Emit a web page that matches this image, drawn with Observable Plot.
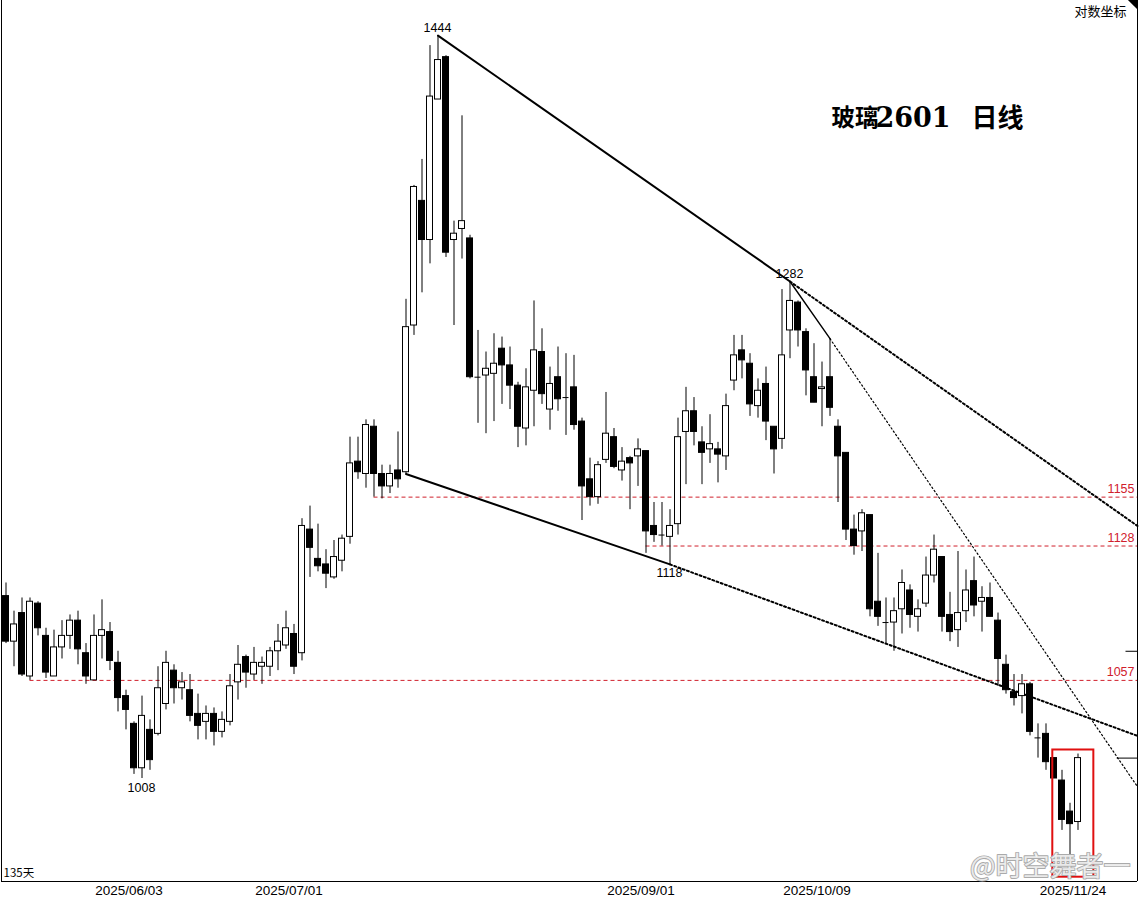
<!DOCTYPE html>
<html><head><meta charset="utf-8">
<script src="https://cdn.jsdelivr.net/npm/d3@7"></script>
<script src="https://cdn.jsdelivr.net/npm/@observablehq/plot@0.6"></script>
<style>body{margin:0;background:#fff}#chart svg{display:block}</style>
</head><body><div id="chart"></div>
<script>
// ---- data ----
const dates = [
"2025/05/12","2025/05/13","2025/05/14","2025/05/15","2025/05/16","2025/05/19","2025/05/20","2025/05/21","2025/05/22","2025/05/23","2025/05/26","2025/05/27","2025/05/28","2025/05/29","2025/05/30",
"2025/06/03","2025/06/04","2025/06/05","2025/06/06","2025/06/09","2025/06/10","2025/06/11","2025/06/12","2025/06/13","2025/06/16","2025/06/17","2025/06/18","2025/06/19","2025/06/20","2025/06/23","2025/06/24","2025/06/25","2025/06/26","2025/06/27","2025/06/30",
"2025/07/01","2025/07/02","2025/07/03","2025/07/04","2025/07/07","2025/07/08","2025/07/09","2025/07/10","2025/07/11","2025/07/14","2025/07/15","2025/07/16","2025/07/17","2025/07/18","2025/07/21","2025/07/22","2025/07/23","2025/07/24","2025/07/25","2025/07/28","2025/07/29","2025/07/30","2025/07/31",
"2025/08/01","2025/08/04","2025/08/05","2025/08/06","2025/08/07","2025/08/08","2025/08/11","2025/08/12","2025/08/13","2025/08/14","2025/08/15","2025/08/18","2025/08/19","2025/08/20","2025/08/21","2025/08/22","2025/08/25","2025/08/26","2025/08/27","2025/08/28","2025/08/29",
"2025/09/01","2025/09/02","2025/09/03","2025/09/04","2025/09/05","2025/09/08","2025/09/09","2025/09/10","2025/09/11","2025/09/12","2025/09/15","2025/09/16","2025/09/17","2025/09/18","2025/09/19","2025/09/22","2025/09/23","2025/09/24","2025/09/25","2025/09/26","2025/09/29","2025/09/30",
"2025/10/09","2025/10/10","2025/10/13","2025/10/14","2025/10/15","2025/10/16","2025/10/17","2025/10/20","2025/10/21","2025/10/22","2025/10/23","2025/10/24","2025/10/27","2025/10/28","2025/10/29","2025/10/30","2025/10/31",
"2025/11/03","2025/11/04","2025/11/05","2025/11/06","2025/11/07","2025/11/10","2025/11/11","2025/11/12","2025/11/13","2025/11/14","2025/11/17","2025/11/18","2025/11/19","2025/11/20","2025/11/21","2025/11/24","2025/11/25"];

const open = [1101,1077,1092,1059,1097,1080,1059,1074,1080,1088,
 1071,1057,1080,1082,1066,1049,1035,1013,1032,1030,
 1045,1062,1053,1052,1040,1036,1040,1031,1036,1056,
 1069,1060,1064,1064,1072,1075,1081,1071,1137,1121,
 1118,1111,1120,1133,1175,1168,1195,1168,1161,1170,
 1169,1255,1333,1308,1400,1429,1308,1315,1309,1224,
 1225,1226,1241,1231,1219,1194,1216,1239,1205,1224,
 1212,1218,1198,1165,1155,1176,1189,1170,1177,1178,
 1181,1139,1134,1133,1140,1192,1204,1186,1182,1182,
 1178,1222,1240,1232,1207,1220,1195,1188,1252,1269,
 1251,1224,1217,1224,1195,1180,1137,1136,1145,1098,
 1087,1087,1094,1104,1090,1097,1112,1122,1091,1083,
 1093,1109,1098,1100,1088,1065,1051,1049,1055,1028,
 1030,1018,1007,992,987];
const high = [1108,1093,1100,1100,1098,1084,1083,1088,1091,1093,
 1076,1091,1099,1087,1072,1052,1036,1049,1037,1064,
 1072,1065,1061,1060,1050,1044,1043,1041,1060,1075,
 1070,1074,1069,1074,1086,1093,1086,1143,1150,1140,
 1126,1131,1134,1189,1189,1199,1199,1173,1173,1192,
 1271,1343,1360,1437,1444,1430,1320,1389,1311,1252,
 1239,1250,1248,1242,1221,1229,1270,1253,1230,1242,
 1238,1237,1200,1177,1175,1215,1194,1183,1178,1188,
 1181,1152,1152,1148,1200,1218,1212,1195,1202,1186,
 1214,1249,1249,1238,1223,1230,1195,1277,1282,1270,
 1253,1244,1233,1247,1199,1180,1145,1148,1145,1124,
 1100,1100,1115,1107,1099,1122,1134,1122,1103,1125,
 1115,1122,1106,1108,1092,1070,1060,1060,1056,1035,
 1035,1018,1012,996,1020];
const low = [1076,1064,1059,1057,1080,1058,1059,1068,1073,1065,
 1055,1057,1068,1062,1041,1032,1010,1008,1012,1029,
 1042,1045,1047,1036,1027,1027,1024,1028,1034,1047,
 1053,1057,1055,1059,1062,1073,1060,1067,1111,1114,
 1105,1110,1114,1129,1165,1160,1155,1154,1157,1160,
 1168,1249,1275,1293,1400,1297,1255,1296,1223,1197,
 1191,1198,1208,1205,1183,1184,1195,1208,1193,1204,
 1190,1193,1142,1150,1151,1174,1171,1164,1148,1161,
 1124,1130,1128,1118,1134,1162,1184,1162,1174,1163,
 1170,1216,1223,1201,1200,1187,1168,1182,1235,1242,
 1213,1209,1195,1201,1152,1131,1123,1125,1090,1085,
 1076,1072,1081,1084,1082,1095,1108,1082,1077,1074,
 1087,1090,1082,1090,1054,1050,1044,1040,1029,1018,
 1012,1008,983,962,983];
const close = [1077,1086,1060,1098,1084,1061,1074,1080,1088,1073,
 1059,1080,1083,1067,1048,1042,1013,1039,1017,1053,
 1066,1053,1056,1039,1034,1040,1031,1037,1054,1065,
 1061,1066,1066,1072,1077,1084,1064,1139,1127,1117,
 1113,1122,1132,1174,1169,1196,1168,1161,1168,1165,
 1254,1342,1308,1402,1427,1300,1312,1320,1224,1224,
 1229,1232,1231,1219,1195,1218,1240,1214,1220,1211,
 1212,1196,1161,1155,1173,1191,1172,1175,1174,1182,
 1136,1134,1134,1139,1189,1204,1192,1180,1185,1179,
 1207,1237,1234,1208,1216,1198,1182,1237,1270,1252,
 1228,1209,1218,1206,1178,1137,1128,1146,1094,1090,
 1087,1093,1108,1091,1094,1112,1126,1090,1082,1092,
 1104,1096,1100,1090,1068,1052,1048,1055,1031,1028,
 1016,1008,988,986,1018];

// x-axis tick positions (candle index)
const tickIdx = [15, 35, 79, 101, 133];
// support / resistance levels and the candle they start from
const levels = [1155, 1128, 1057];
const levelStart = [46, 80, 3];
// marked extremes
const extremesAbove = [{i: 54, p: 1444}, {i: 98, p: 1282}];
const extremesBelow = [{i: 83, p: 1118}, {i: 17, p: 1008}];
// trend lines (candle index, price); last point on right border
const X0 = -0.5625, X1 = 141.4375;
const YMIN = 959, YMAX = 1468.7;
const trendSolidThick = [
  {k: "a", i: 54, p: 1444}, {k: "a", i: 98, p: 1282},
  {k: "d", i: 50, p: 1168}, {k: "d", i: 83, p: 1118}];
const trendSolidThin = [{k: "b", i: 98, p: 1282}, {k: "b", i: 103, p: 1247}];
const trendDotThick = [
  {k: "c", i: 98, p: 1282}, {k: "c", i: X1, p: 1139},
  {k: "e", i: 83, p: 1118}, {k: "e", i: X1, p: 1029}];
const trendDotThin = [{k: "f", i: 103, p: 1247}, {k: "f", i: X1, p: 1004}];
// right-edge price markers
const edgeMarks = [{p: 1018, from: 138.9}, {p: 1072, from: 140.0}];
// highlighted last candles box
const box = [{x1: 130.85, x2: 135.98, y1: 961, y2: 1022}];
// corner marker (small triangle, top-right)
const corner = [{i: 140.3, top: YMAX, bot: YMAX}, {i: X1, top: YMAX, bot: 1462.3}];

// ---- build ----
const data = dates.map((d, i) => ({i, date: d, open: open[i], high: high[i], low: low[i], close: close[i]}));
const up = data.filter(d => d.close > d.open);
const down = data.filter(d => d.close < d.open);
const doji = data.filter(d => d.close === d.open);
const lv = levels.map((p, k) => ({p, s: levelStart[k]}));
const RED = "#d0202c";
const W = 0.375;

const chart = Plot.plot({
  width: 1139, height: 899,
  marginTop: 0, marginBottom: 18, marginLeft: 1, marginRight: 2,
  x: {domain: [X0, X1], label: null},
  y: {type: "log", domain: [YMIN, YMAX], axis: null},
  style: {fontFamily: "Liberation Sans", background: "white", color: "black"},
  marks: [
    // levels
    Plot.ruleY(lv, {y: "p", x1: "s", x2: X1, stroke: RED, strokeWidth: 1, strokeDasharray: "4,3"}),
    Plot.text(lv, {x: X1, y: "p", text: d => String(d.p), textAnchor: "end", dx: -3, dy: -8, fill: RED, fontSize: 12.5}),
    // trend lines
    Plot.line(trendSolidThick, {x: "i", y: "p", z: "k", stroke: "black", strokeWidth: 2}),
    Plot.line(trendSolidThin, {x: "i", y: "p", z: "k", stroke: "black", strokeWidth: 1.4}),
    Plot.line(trendDotThick, {x: "i", y: "p", z: "k", stroke: "black", strokeWidth: 2, strokeDasharray: "2,2.5"}),
    Plot.line(trendDotThin, {x: "i", y: "p", z: "k", stroke: "black", strokeWidth: 1.2, strokeDasharray: "1.5,2.5"}),
    // candles
    Plot.ruleX(data, {x: "i", y1: "low", y2: "high", stroke: "black", strokeWidth: 1}),
    Plot.rect(down, {x1: d => d.i - W, x2: d => d.i + W, y1: "open", y2: "close", fill: "black", stroke: "black", strokeWidth: 1}),
    Plot.rect(up, {x1: d => d.i - W, x2: d => d.i + W, y1: "open", y2: "close", fill: "white", stroke: "black", strokeWidth: 1}),
    Plot.ruleY(doji, {y: "open", x1: d => d.i - W, x2: d => d.i + W, stroke: "black", strokeWidth: 1}),
    // extremes labels
    Plot.text(extremesAbove, {x: "i", y: "p", text: d => String(d.p), dy: -8, dx: -0.5, fontSize: 12.5, fill: "black"}),
    Plot.text(extremesBelow, {x: "i", y: "p", text: d => String(d.p), dy: 9, dx: -0.5, fontSize: 12.5, fill: "black"}),
    // right edge markers
    Plot.ruleY(edgeMarks, {y: "p", x1: "from", x2: X1, stroke: "black", strokeWidth: 1}),
    // red box
    Plot.rect(box, {x1: "x1", x2: "x2", y1: "y1", y2: "y2", fill: "none", stroke: "#e01010", strokeWidth: 2}),
    // frame
    Plot.ruleX([X0, X1], {stroke: "black", strokeWidth: 1}),
    Plot.ruleY([YMIN], {stroke: "black", strokeWidth: 1}),
    Plot.areaY(corner, {x: "i", y1: "top", y2: "bot", fill: "black"}),
    // x axis
    Plot.axisX(tickIdx, {anchor: "bottom", tickSize: 0, tickPadding: 4, tickFormat: i => dates[i], fontSize: 13.5, dx: 3, label: null}),
    // titles / annotations
    Plot.text(["玻璃"], {frameAnchor: "top-left", dx: 830, dy: 118, textAnchor: "start", lineAnchor: "middle", fontSize: 23.5, fontWeight: "bold", fontFamily: "Noto Sans CJK SC", fill: "black"}),
    Plot.text(["2601"], {frameAnchor: "top-left", dx: 874, dy: 118, textAnchor: "start", lineAnchor: "middle", fontSize: 27, fontWeight: "bold", fontFamily: "DejaVu Serif", fill: "black"}),
    Plot.text(["日线"], {frameAnchor: "top-left", dx: 970, dy: 118, textAnchor: "start", lineAnchor: "middle", fontSize: 26, fontWeight: "bold", fontFamily: "Noto Sans CJK SC", fill: "black"}),
    Plot.text(["对数坐标"], {frameAnchor: "top-right", dx: -11, dy: 11, textAnchor: "end", lineAnchor: "middle", fontSize: 13, fontFamily: "Noto Sans CJK SC", fill: "black"}),
    Plot.text(["135天"], {frameAnchor: "bottom-left", dx: 2, dy: -8, textAnchor: "start", lineAnchor: "middle", fontSize: 11.5, fontFamily: "Noto Sans CJK SC", fill: "black"}),
    Plot.text(["@时空舞者一"], {frameAnchor: "bottom-right", dx: -7, dy: -14, textAnchor: "end", lineAnchor: "middle", fontSize: 27, fontFamily: "Noto Sans CJK SC", fill: "white", fillOpacity: 0.75, stroke: "#aaaaaa", strokeWidth: 1.8})
  ]
});
document.getElementById("chart").appendChild(chart);
</script>
</body></html>
